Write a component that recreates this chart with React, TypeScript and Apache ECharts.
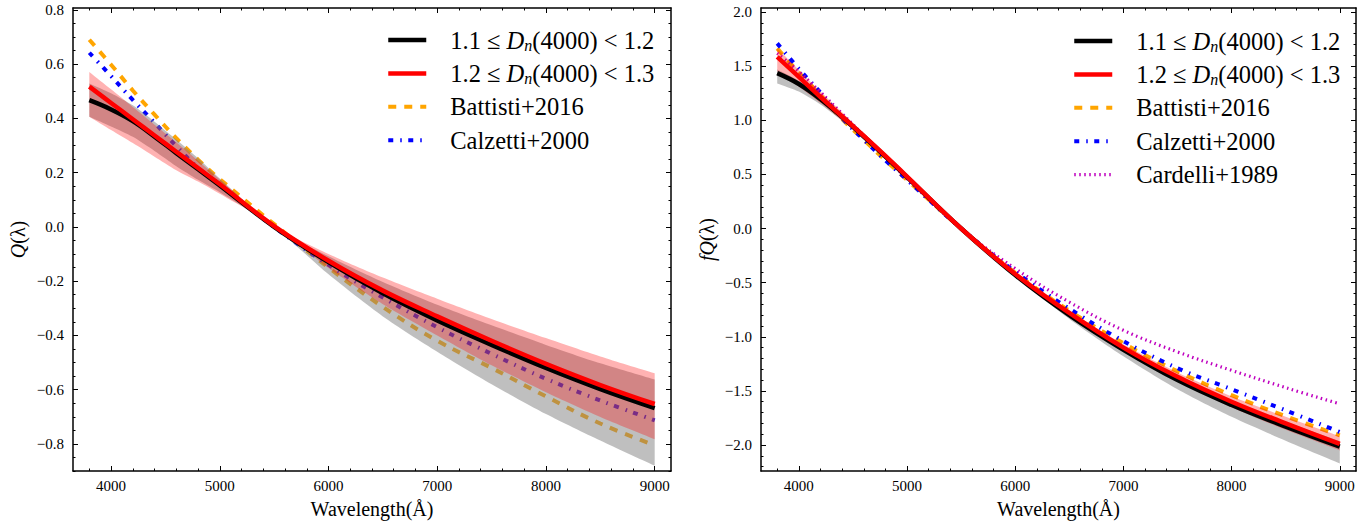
import React, { useEffect, useRef } from 'react';
import * as echarts from 'echarts';

// ---------------- data ----------------
const wavelengths = [3800, 4000, 4200, 4400, 4600, 4800, 5000, 5500, 6000, 6500, 7000, 7500, 8000, 8500, 9000];

// Left panel: Q(lambda)
const qLow = [0.467, 0.433, 0.39, 0.333, 0.272, 0.213, 0.153, 0.0, -0.13, -0.245, -0.345, -0.435, -0.52, -0.598, -0.668];
const qLowBandLo = [0.406, 0.37, 0.332, 0.28, 0.224, 0.174, 0.128, 0.0, -0.175, -0.33, -0.46, -0.58, -0.69, -0.788, -0.881];
const qLowBandHi = [0.529, 0.493, 0.448, 0.388, 0.322, 0.253, 0.178, 0.0, -0.108, -0.203, -0.287, -0.363, -0.435, -0.503, -0.563];
const qHigh = [0.517, 0.457, 0.397, 0.337, 0.277, 0.217, 0.157, 0.003, -0.125, -0.235, -0.33, -0.42, -0.505, -0.583, -0.653];
const qHighBandLo = [0.406, 0.357, 0.309, 0.259, 0.209, 0.167, 0.122, 0.003, -0.152, -0.285, -0.4, -0.51, -0.61, -0.701, -0.783];
const qHighBandHi = [0.571, 0.507, 0.442, 0.377, 0.312, 0.244, 0.175, 0.003, -0.1, -0.187, -0.265, -0.34, -0.41, -0.478, -0.54];
const qBattisti = [0.69, 0.598, 0.503, 0.414, 0.327, 0.248, 0.176, 0.01, -0.15, -0.295, -0.42, -0.52, -0.625, -0.725, -0.805];
const qCalzetti = [0.642, 0.556, 0.468, 0.384, 0.298, 0.218, 0.157, 0.0, -0.14, -0.26, -0.37, -0.468, -0.56, -0.64, -0.713];

// Right panel: fQ(lambda)
const fLow = [1.435, 1.335, 1.195, 1.03, 0.85, 0.665, 0.475, 0.0, -0.43, -0.8, -1.12, -1.4, -1.63, -1.83, -2.015];
const fLowBandLo = [1.34, 1.265, 1.145, 0.995, 0.825, 0.65, 0.465, 0.0, -0.445, -0.835, -1.18, -1.485, -1.74, -1.96, -2.17];
const fLowBandHi = [1.47, 1.365, 1.22, 1.05, 0.865, 0.675, 0.48, 0.0, -0.422, -0.785, -1.095, -1.37, -1.59, -1.785, -1.965];
const fHigh = [1.586, 1.4, 1.215, 1.035, 0.855, 0.67, 0.48, 0.0, -0.42, -0.78, -1.1, -1.37, -1.6, -1.8, -1.99];
const fHighBandLo = [1.45, 1.31, 1.16, 0.995, 0.825, 0.65, 0.468, 0.0, -0.432, -0.8, -1.13, -1.41, -1.65, -1.86, -2.05];
const fHighBandHi = [1.666, 1.465, 1.265, 1.075, 0.885, 0.69, 0.492, 0.0, -0.408, -0.76, -1.07, -1.33, -1.55, -1.74, -1.92];
const fBattisti = [1.664, 1.44, 1.23, 1.01, 0.82, 0.63, 0.45, 0.0, -0.41, -0.76, -1.06, -1.32, -1.54, -1.735, -1.91];
const fCalzetti = [1.71, 1.475, 1.255, 1.02, 0.82, 0.63, 0.45, 0.0, -0.4, -0.74, -1.04, -1.29, -1.485, -1.68, -1.88];
const fCardelli = [1.62, 1.45, 1.26, 1.06, 0.86, 0.66, 0.46, 0.0, -0.37, -0.68, -0.94, -1.14, -1.31, -1.47, -1.62];

// names
const nameLow = '1.1 ≤ Dn(4000) < 1.2';
const nameHigh = '1.2 ≤ Dn(4000) < 1.3';
const nameBattisti = 'Battisti+2016';
const nameCalzetti = 'Calzetti+2000';
const nameCardelli = 'Cardelli+1989';

// ticks
const xMajorTicks = [4000, 5000, 6000, 7000, 8000, 9000];
const xMinorTicks: number[] = [];
for (let v = 3800; v <= 9000; v += 200) xMinorTicks.push(v);
const qMajorTicks = [-0.8, -0.6, -0.4, -0.2, 0.0, 0.2, 0.4, 0.6, 0.8];
const qMinorTicks: number[] = [];
for (let k = -18; k <= 16; k++) qMinorTicks.push(k * 0.05);
const fMajorTicks = [-2.0, -1.5, -1.0, -0.5, 0.0, 0.5, 1.0, 1.5, 2.0];
const fMinorTicks: number[] = [];
for (let k = -22; k <= 20; k++) fMinorTicks.push(k * 0.1);

const X_MIN = 3650;
const X_MAX = 9150;
const Q_MIN = -0.9;
const Q_MAX = 0.807;
const F_MIN = -2.24;
const F_MAX = 2.037;

// ---------------- styling helpers ----------------
const SERIF = "'Liberation Serif', 'DejaVu Serif', serif";
const ORANGE = '#FFA500';
const BLUE = '#0000FF';
const MAGENTA = '#BF00BF';

const pairs = (vals: number[]) => wavelengths.map((w, i) => [w, vals[i]]);

const tickLine = { color: '#000', width: 1 };
const boxLine = { show: true, onZero: false, lineStyle: { color: '#000', width: 1.5 } };

function xAxes(grid: number) {
  const base = { type: 'value', gridIndex: grid, min: X_MIN, max: X_MAX, splitLine: { show: false } };
  return [
    {
      ...base,
      position: 'bottom',
      axisLine: boxLine,
      axisTick: { show: true, inside: true, length: 5, customValues: xMajorTicks, lineStyle: tickLine },
      axisLabel: {
        show: true,
        customValues: xMajorTicks,
        color: '#000',
        fontFamily: SERIF,
        fontSize: 15,
        margin: 7,
        formatter: (v: number) => String(Math.round(v)),
      },
      name: 'Wavelength(Å)',
      nameLocation: 'middle',
      nameGap: 28,
      nameTextStyle: { fontFamily: SERIF, fontSize: 20, color: '#000' },
    },
    {
      ...base,
      position: 'bottom',
      axisLine: { show: false, onZero: false },
      axisTick: { show: true, inside: true, length: 2.5, customValues: xMinorTicks, lineStyle: tickLine },
      axisLabel: { show: false },
    },
    {
      ...base,
      position: 'top',
      axisLine: boxLine,
      axisTick: { show: true, inside: true, length: 5, customValues: xMajorTicks, lineStyle: tickLine },
      axisLabel: { show: false },
    },
    {
      ...base,
      position: 'top',
      axisLine: { show: false, onZero: false },
      axisTick: { show: true, inside: true, length: 2.5, customValues: xMinorTicks, lineStyle: tickLine },
      axisLabel: { show: false },
    },
  ];
}

function yAxes(grid: number, min: number, max: number, major: number[], minor: number[], name: string, nameGap: number) {
  const base = { type: 'value', gridIndex: grid, min, max, splitLine: { show: false } };
  return [
    {
      ...base,
      position: 'left',
      axisLine: boxLine,
      axisTick: { show: true, inside: true, length: 5, customValues: major, lineStyle: tickLine },
      axisLabel: {
        show: true,
        customValues: major,
        color: '#000',
        fontFamily: SERIF,
        fontSize: 15,
        margin: 9,
        formatter: (v: number) => v.toFixed(1).replace('-', '\u2212'),
      },
      name,
      nameLocation: 'middle',
      nameGap,
      nameTextStyle: {
        fontFamily: SERIF,
        fontSize: 20,
        color: '#000',
        rich: {
          i: { fontFamily: SERIF, fontStyle: 'italic', fontSize: 20, color: '#000' },
          r: { fontFamily: SERIF, fontSize: 20, color: '#000' },
        },
      },
    },
    {
      ...base,
      position: 'left',
      axisLine: { show: false, onZero: false },
      axisTick: { show: true, inside: true, length: 2.5, customValues: minor, lineStyle: tickLine },
      axisLabel: { show: false },
    },
    {
      ...base,
      position: 'right',
      axisLine: boxLine,
      axisTick: { show: true, inside: true, length: 5, customValues: major, lineStyle: tickLine },
      axisLabel: { show: false },
    },
    {
      ...base,
      position: 'right',
      axisLine: { show: false, onZero: false },
      axisTick: { show: true, inside: true, length: 2.5, customValues: minor, lineStyle: tickLine },
      axisLabel: { show: false },
    },
  ];
}

function lineSeries(name: string, vals: number[], xi: number, yi: number, style: any, z: number) {
  return {
    type: 'line',
    name,
    xAxisIndex: xi,
    yAxisIndex: yi,
    data: pairs(vals),
    smooth: 0.4,
    symbol: 'none',
    z,
    lineStyle: style,
    itemStyle: { color: style.color },
    emphasis: { disabled: true },
    silent: true,
  };
}

// shaded uncertainty band, drawn as a polygon through the axes' own coordinate mapping
function bandSeries(key: string, lo: number[], hi: number[], xi: number, yi: number, fill: string, z: number) {
  return {
    type: 'custom',
    name: key,
    xAxisIndex: xi,
    yAxisIndex: yi,
    data: [[wavelengths[0], lo[0], hi[0]]],
    z,
    silent: true,
    renderItem: (params: any, api: any) => {
      if (params.dataIndex !== 0) return null;
      const upper = wavelengths.map((w, i) => api.coord([w, hi[i]]));
      const lower = wavelengths.map((w, i) => api.coord([w, lo[i]])).reverse();
      // corner points doubled so the smoothed outline keeps straight vertical ends
      const pts = [
        upper[0],
        ...upper,
        upper[upper.length - 1],
        lower[0],
        ...lower,
        lower[lower.length - 1],
      ];
      return {
        type: 'polygon',
        shape: { points: pts, smooth: 0.25 },
        style: { fill, stroke: 'none' },
      };
    },
  };
}

const styleLow = { color: '#000000', width: 4.5, type: 'solid' };
const styleHigh = { color: '#FF0000', width: 4.5, type: 'solid' };
const styleBattisti = { color: ORANGE, width: 4, type: [8, 8], cap: 'butt' };
const styleCalzetti = { color: BLUE, width: 4, type: [5, 7, 1.5, 6.5], cap: 'butt' };
const styleCardelli = { color: MAGENTA, width: 3.2, type: [1.5, 3.5], cap: 'butt' };

const LEG_FS = 24.5;
const legendRich = {
  r: { fontFamily: SERIF, fontSize: LEG_FS, color: '#000', lineHeight: 26 },
  i: { fontFamily: SERIF, fontStyle: 'italic', fontSize: LEG_FS, color: '#000', lineHeight: 26 },
  s: { fontFamily: SERIF, fontStyle: 'italic', fontSize: 16, color: '#000', lineHeight: 26, padding: [10, 0, 0, 0] },
};

const legendFormatter = (name: string) => {
  if (name === nameLow) return '{r|1.1 ≤ }{i|D}{s|n}{r|(4000) < 1.2}';
  if (name === nameHigh) return '{r|1.2 ≤ }{i|D}{s|n}{r|(4000) < 1.3}';
  return '{r|' + name + '}';
};

function makeLegend(left: number, top: number, data: string[]) {
  return {
    show: true,
    orient: 'vertical',
    left,
    top,
    itemWidth: 38,
    itemHeight: 14,
    itemGap: 7.4,
    selectedMode: false,
    data,
    formatter: legendFormatter,
    itemStyle: { opacity: 0, color: 'rgba(0,0,0,0)', borderWidth: 0 },
    lineStyle: { width: 'inherit', type: 'inherit' },
    textStyle: { fontFamily: SERIF, fontSize: LEG_FS, color: '#000', lineHeight: 26, padding: [0, 0, 0, 19], rich: legendRich },
  };
}

export default function App() {
  const ref = useRef<HTMLDivElement>(null);
  useEffect(() => {
    if (!ref.current) return;
    const chart = echarts.init(ref.current, undefined, { renderer: 'svg' });
    const option: any = {
      animation: false,
      backgroundColor: '#ffffff',
      grid: [
        { left: 73, top: 8, width: 598, height: 463 },
        { left: 761, top: 8, width: 595, height: 463 },
      ],
      xAxis: [...xAxes(0), ...xAxes(1)],
      yAxis: [
        ...yAxes(0, Q_MIN, Q_MAX, qMajorTicks, qMinorTicks, '{i|Q}{r|(λ)}', 45),
        ...yAxes(1, F_MIN, F_MAX, fMajorTicks, fMinorTicks, '{i|fQ}{r|(λ)}', 44),
      ],
      legend: [
        makeLegend(381, 22, [nameLow, nameHigh, nameBattisti, nameCalzetti]),
        makeLegend(1067, 23, [nameLow, nameHigh, nameBattisti, nameCalzetti, nameCardelli]),
      ],
      series: [
        // left panel
        lineSeries(nameBattisti, qBattisti, 0, 0, styleBattisti, 2),
        lineSeries(nameCalzetti, qCalzetti, 0, 0, styleCalzetti, 2),
        bandSeries('gL', qLowBandLo, qLowBandHi, 0, 0, 'rgba(128,128,128,0.5)', 3),
        bandSeries('pL', qHighBandLo, qHighBandHi, 0, 0, 'rgba(255,0,0,0.3)', 3),
        lineSeries(nameLow, qLow, 0, 0, styleLow, 4),
        lineSeries(nameHigh, qHigh, 0, 0, styleHigh, 4),
        // right panel
        lineSeries(nameBattisti, fBattisti, 4, 4, styleBattisti, 2),
        lineSeries(nameCalzetti, fCalzetti, 4, 4, styleCalzetti, 2),
        lineSeries(nameCardelli, fCardelli, 4, 4, styleCardelli, 2),
        bandSeries('gR', fLowBandLo, fLowBandHi, 4, 4, 'rgba(128,128,128,0.5)', 3),
        bandSeries('pR', fHighBandLo, fHighBandHi, 4, 4, 'rgba(255,0,0,0.3)', 3),
        lineSeries(nameLow, fLow, 4, 4, styleLow, 4),
        lineSeries(nameHigh, fHigh, 4, 4, styleHigh, 4),
      ],
    };
    chart.setOption(option);
    return () => {
      chart.dispose();
    };
  }, []);
  return (
    <div
      ref={ref}
      style={{ position: 'absolute', left: 0, top: 0, width: 1369, height: 525, background: '#fff' }}
    />
  );
}
